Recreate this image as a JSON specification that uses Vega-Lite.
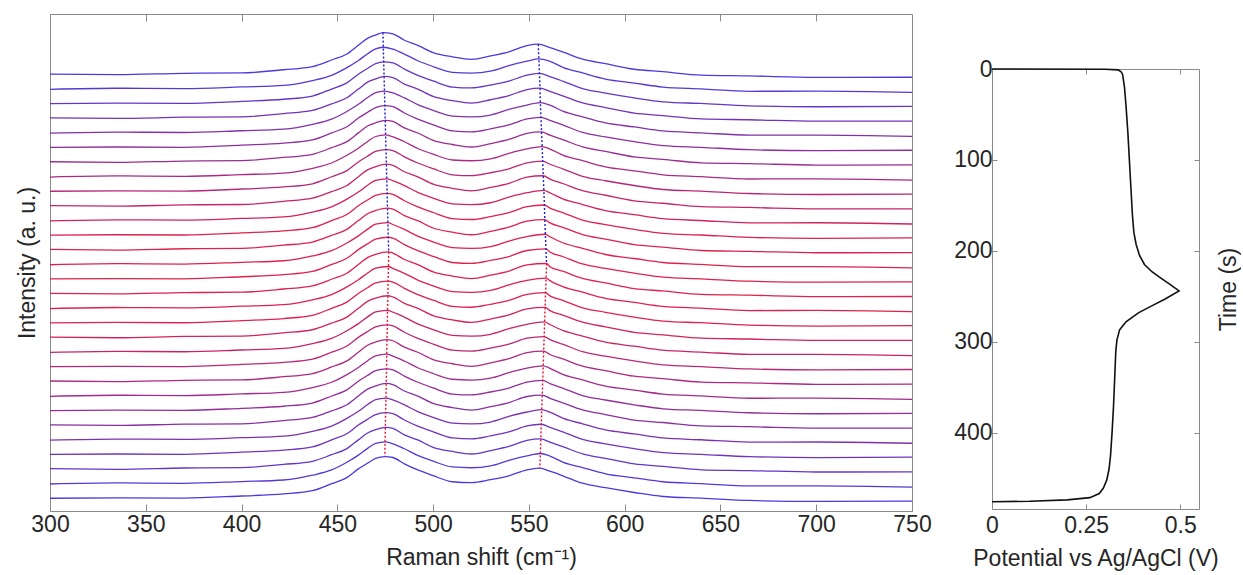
{
"$schema":"https://vega.github.io/schema/vega-lite/v6.json",
"background":"white",
"padding":{"left":15,"top":13,"right":0,"bottom":0},
"spacing":21,
"config":{"font":"Liberation Sans","view":{"stroke":"#8a8a8a","strokeWidth":1},
"axis":{"labelFont":"Liberation Sans","titleFont":"Liberation Sans","labelFontSize":23,"titleFontSize":23,"titleFontWeight":"normal","labelColor":"#262626","titleColor":"#262626","grid":false,"domain":false,"tickColor":"#8a8a8a","labelFlush":false,"labelOverlap":false}},
"datasets":{
"spec":[
{"s":0,"x":300,"y":448.4},{"s":0,"x":335,"y":447.8},{"s":0,"x":370,"y":449.1},{"s":0,"x":400,"y":449.5},{"s":0,"x":422,"y":452.8},{"s":0,"x":437,"y":456},{"s":0,"x":447,"y":462.8},{"s":0,"x":455,"y":469},{"s":0,"x":461,"y":478},{"s":0,"x":466,"y":485.3},{"s":0,"x":470,"y":488.4},{"s":0,"x":473.8,"y":490.9},{"s":0,"x":479,"y":489.7},{"s":0,"x":485,"y":483.1},{"s":0,"x":492,"y":477.9},{"s":0,"x":500,"y":470.4},{"s":0,"x":510,"y":466.1},{"s":0,"x":520,"y":463.5},{"s":0,"x":530,"y":467},{"s":0,"x":540,"y":471.5},{"s":0,"x":549,"y":477.5},{"s":0,"x":554.9,"y":479},{"s":0,"x":561,"y":475.6},{"s":0,"x":568,"y":470.8},{"s":0,"x":578,"y":463.7},{"s":0,"x":590,"y":459},{"s":0,"x":605,"y":453.3},{"s":0,"x":620,"y":450.8},{"s":0,"x":640,"y":447.3},{"s":0,"x":665,"y":446.5},{"s":0,"x":700,"y":445},{"s":0,"x":750,"y":445.1},
{"s":1,"x":300,"y":432.7},{"s":1,"x":335,"y":433.8},{"s":1,"x":370,"y":433.4},{"s":1,"x":400,"y":435.2},{"s":1,"x":422,"y":436.8},{"s":1,"x":437,"y":441.7},{"s":1,"x":447,"y":447.1},{"s":1,"x":455,"y":455},{"s":1,"x":461,"y":462.3},{"s":1,"x":466,"y":469.5},{"s":1,"x":470,"y":474.3},{"s":1,"x":474.0,"y":475.9},{"s":1,"x":479,"y":474},{"s":1,"x":485,"y":468.9},{"s":1,"x":492,"y":462},{"s":1,"x":500,"y":456.1},{"s":1,"x":510,"y":450.2},{"s":1,"x":520,"y":449.4},{"s":1,"x":530,"y":451.3},{"s":1,"x":540,"y":457.3},{"s":1,"x":549,"y":461.6},{"s":1,"x":555.2,"y":464},{"s":1,"x":561,"y":461.4},{"s":1,"x":568,"y":455},{"s":1,"x":578,"y":449.5},{"s":1,"x":590,"y":443.2},{"s":1,"x":605,"y":439.1},{"s":1,"x":620,"y":435},{"s":1,"x":640,"y":433.1},{"s":1,"x":665,"y":430.7},{"s":1,"x":700,"y":430.8},{"s":1,"x":750,"y":429.5},
{"s":2,"x":300,"y":418.1},{"s":2,"x":335,"y":418.5},{"s":2,"x":370,"y":418.2},{"s":2,"x":400,"y":420.4},{"s":2,"x":422,"y":422.5},{"s":2,"x":437,"y":425.8},{"s":2,"x":447,"y":433},{"s":2,"x":455,"y":439.3},{"s":2,"x":461,"y":448.2},{"s":2,"x":466,"y":454.4},{"s":2,"x":470,"y":459},{"s":2,"x":474.2,"y":460.9},{"s":2,"x":479,"y":459.9},{"s":2,"x":485,"y":453.4},{"s":2,"x":492,"y":447.1},{"s":2,"x":500,"y":441.3},{"s":2,"x":510,"y":435},{"s":2,"x":520,"y":434.1},{"s":2,"x":530,"y":437.1},{"s":2,"x":540,"y":441.4},{"s":2,"x":549,"y":447.3},{"s":2,"x":555.5,"y":449},{"s":2,"x":561,"y":445.8},{"s":2,"x":568,"y":440.9},{"s":2,"x":578,"y":433.5},{"s":2,"x":590,"y":428.9},{"s":2,"x":605,"y":424},{"s":2,"x":620,"y":419.9},{"s":2,"x":640,"y":418.2},{"s":2,"x":665,"y":415.8},{"s":2,"x":700,"y":414.8},{"s":2,"x":750,"y":415.2},
{"s":3,"x":300,"y":403.4},{"s":3,"x":335,"y":402.8},{"s":3,"x":370,"y":404.1},{"s":3,"x":400,"y":404.5},{"s":3,"x":422,"y":407.8},{"s":3,"x":437,"y":411},{"s":3,"x":447,"y":417.8},{"s":3,"x":455,"y":424},{"s":3,"x":461,"y":433},{"s":3,"x":466,"y":440.3},{"s":3,"x":470,"y":443.4},{"s":3,"x":474.4,"y":445.9},{"s":3,"x":479,"y":444.7},{"s":3,"x":485,"y":438.1},{"s":3,"x":492,"y":432.9},{"s":3,"x":500,"y":425.4},{"s":3,"x":510,"y":421.1},{"s":3,"x":520,"y":418.5},{"s":3,"x":530,"y":422},{"s":3,"x":540,"y":426.5},{"s":3,"x":549,"y":432.5},{"s":3,"x":555.8,"y":434},{"s":3,"x":561,"y":430.6},{"s":3,"x":568,"y":425.8},{"s":3,"x":578,"y":418.7},{"s":3,"x":590,"y":414},{"s":3,"x":605,"y":408.3},{"s":3,"x":620,"y":405.8},{"s":3,"x":640,"y":402.3},{"s":3,"x":665,"y":401.5},{"s":3,"x":700,"y":400},{"s":3,"x":750,"y":400.1},
{"s":4,"x":300,"y":387.7},{"s":4,"x":335,"y":388.8},{"s":4,"x":370,"y":388.4},{"s":4,"x":400,"y":390.2},{"s":4,"x":422,"y":391.8},{"s":4,"x":437,"y":396.7},{"s":4,"x":447,"y":402.1},{"s":4,"x":455,"y":410},{"s":4,"x":461,"y":417.3},{"s":4,"x":466,"y":424.5},{"s":4,"x":470,"y":429.3},{"s":4,"x":474.6,"y":430.9},{"s":4,"x":479,"y":429},{"s":4,"x":485,"y":423.9},{"s":4,"x":492,"y":417},{"s":4,"x":500,"y":411.1},{"s":4,"x":510,"y":405.2},{"s":4,"x":520,"y":404.4},{"s":4,"x":530,"y":406.3},{"s":4,"x":540,"y":412.3},{"s":4,"x":549,"y":416.6},{"s":4,"x":556.0,"y":419},{"s":4,"x":561,"y":416.4},{"s":4,"x":568,"y":410},{"s":4,"x":578,"y":404.5},{"s":4,"x":590,"y":398.2},{"s":4,"x":605,"y":394.1},{"s":4,"x":620,"y":390},{"s":4,"x":640,"y":388.1},{"s":4,"x":665,"y":385.7},{"s":4,"x":700,"y":385.8},{"s":4,"x":750,"y":384.5},
{"s":5,"x":300,"y":373.1},{"s":5,"x":335,"y":373.5},{"s":5,"x":370,"y":373.2},{"s":5,"x":400,"y":375.4},{"s":5,"x":422,"y":377.5},{"s":5,"x":437,"y":380.8},{"s":5,"x":447,"y":388},{"s":5,"x":455,"y":394.3},{"s":5,"x":461,"y":403.2},{"s":5,"x":466,"y":409.4},{"s":5,"x":470,"y":414},{"s":5,"x":474.8,"y":415.9},{"s":5,"x":479,"y":414.9},{"s":5,"x":485,"y":408.4},{"s":5,"x":492,"y":402.1},{"s":5,"x":500,"y":396.3},{"s":5,"x":510,"y":390},{"s":5,"x":520,"y":389.1},{"s":5,"x":530,"y":392.1},{"s":5,"x":540,"y":396.4},{"s":5,"x":549,"y":402.3},{"s":5,"x":556.3,"y":404},{"s":5,"x":561,"y":400.8},{"s":5,"x":568,"y":395.9},{"s":5,"x":578,"y":388.5},{"s":5,"x":590,"y":383.9},{"s":5,"x":605,"y":379},{"s":5,"x":620,"y":374.9},{"s":5,"x":640,"y":373.2},{"s":5,"x":665,"y":370.8},{"s":5,"x":700,"y":369.8},{"s":5,"x":750,"y":370.2},
{"s":6,"x":300,"y":358.4},{"s":6,"x":335,"y":357.8},{"s":6,"x":370,"y":359.1},{"s":6,"x":400,"y":359.5},{"s":6,"x":422,"y":362.8},{"s":6,"x":437,"y":366},{"s":6,"x":447,"y":372.8},{"s":6,"x":455,"y":379},{"s":6,"x":461,"y":388},{"s":6,"x":466,"y":395.3},{"s":6,"x":470,"y":398.4},{"s":6,"x":475.0,"y":400.9},{"s":6,"x":479,"y":399.7},{"s":6,"x":485,"y":393.1},{"s":6,"x":492,"y":387.9},{"s":6,"x":500,"y":380.4},{"s":6,"x":510,"y":376.1},{"s":6,"x":520,"y":373.5},{"s":6,"x":530,"y":377},{"s":6,"x":540,"y":381.5},{"s":6,"x":549,"y":387.5},{"s":6,"x":556.6,"y":389},{"s":6,"x":561,"y":385.6},{"s":6,"x":568,"y":380.8},{"s":6,"x":578,"y":373.7},{"s":6,"x":590,"y":369},{"s":6,"x":605,"y":363.3},{"s":6,"x":620,"y":360.8},{"s":6,"x":640,"y":357.3},{"s":6,"x":665,"y":356.5},{"s":6,"x":700,"y":355},{"s":6,"x":750,"y":355.1},
{"s":7,"x":300,"y":342.7},{"s":7,"x":335,"y":343.8},{"s":7,"x":370,"y":343.4},{"s":7,"x":400,"y":345.2},{"s":7,"x":422,"y":346.8},{"s":7,"x":437,"y":351.7},{"s":7,"x":447,"y":357.1},{"s":7,"x":455,"y":365},{"s":7,"x":461,"y":372.3},{"s":7,"x":466,"y":379.5},{"s":7,"x":470,"y":384.3},{"s":7,"x":475.2,"y":385.9},{"s":7,"x":479,"y":384},{"s":7,"x":485,"y":378.9},{"s":7,"x":492,"y":372},{"s":7,"x":500,"y":366.1},{"s":7,"x":510,"y":360.2},{"s":7,"x":520,"y":359.4},{"s":7,"x":530,"y":361.3},{"s":7,"x":540,"y":367.3},{"s":7,"x":549,"y":371.6},{"s":7,"x":556.9,"y":374},{"s":7,"x":561,"y":371.4},{"s":7,"x":568,"y":365},{"s":7,"x":578,"y":359.5},{"s":7,"x":590,"y":353.2},{"s":7,"x":605,"y":349.1},{"s":7,"x":620,"y":345},{"s":7,"x":640,"y":343.1},{"s":7,"x":665,"y":340.7},{"s":7,"x":700,"y":340.8},{"s":7,"x":750,"y":339.5},
{"s":8,"x":300,"y":328.1},{"s":8,"x":335,"y":328.5},{"s":8,"x":370,"y":328.2},{"s":8,"x":400,"y":330.4},{"s":8,"x":422,"y":332.5},{"s":8,"x":437,"y":335.8},{"s":8,"x":447,"y":343},{"s":8,"x":455,"y":349.3},{"s":8,"x":461,"y":358.2},{"s":8,"x":466,"y":364.4},{"s":8,"x":470,"y":369},{"s":8,"x":475.4,"y":370.9},{"s":8,"x":479,"y":369.9},{"s":8,"x":485,"y":363.4},{"s":8,"x":492,"y":357.1},{"s":8,"x":500,"y":351.3},{"s":8,"x":510,"y":345},{"s":8,"x":520,"y":344.1},{"s":8,"x":530,"y":347.1},{"s":8,"x":540,"y":351.4},{"s":8,"x":549,"y":357.3},{"s":8,"x":557.2,"y":359},{"s":8,"x":561,"y":355.8},{"s":8,"x":568,"y":350.9},{"s":8,"x":578,"y":343.5},{"s":8,"x":590,"y":338.9},{"s":8,"x":605,"y":334},{"s":8,"x":620,"y":329.9},{"s":8,"x":640,"y":328.2},{"s":8,"x":665,"y":325.8},{"s":8,"x":700,"y":324.8},{"s":8,"x":750,"y":325.2},
{"s":9,"x":300,"y":313.4},{"s":9,"x":335,"y":312.8},{"s":9,"x":370,"y":314.1},{"s":9,"x":400,"y":314.5},{"s":9,"x":422,"y":317.8},{"s":9,"x":437,"y":321},{"s":9,"x":447,"y":327.8},{"s":9,"x":455,"y":334},{"s":9,"x":461,"y":343},{"s":9,"x":466,"y":350.3},{"s":9,"x":470,"y":353.4},{"s":9,"x":475.6,"y":355.9},{"s":9,"x":479,"y":354.7},{"s":9,"x":485,"y":348.1},{"s":9,"x":492,"y":342.9},{"s":9,"x":500,"y":335.4},{"s":9,"x":510,"y":331.1},{"s":9,"x":520,"y":328.5},{"s":9,"x":530,"y":332},{"s":9,"x":540,"y":336.5},{"s":9,"x":549,"y":342.5},{"s":9,"x":557.5,"y":344},{"s":9,"x":561,"y":340.6},{"s":9,"x":568,"y":335.8},{"s":9,"x":578,"y":328.7},{"s":9,"x":590,"y":324},{"s":9,"x":605,"y":318.3},{"s":9,"x":620,"y":315.8},{"s":9,"x":640,"y":312.3},{"s":9,"x":665,"y":311.5},{"s":9,"x":700,"y":310},{"s":9,"x":750,"y":310.1},
{"s":10,"x":300,"y":297.7},{"s":10,"x":335,"y":298.8},{"s":10,"x":370,"y":298.4},{"s":10,"x":400,"y":300.2},{"s":10,"x":422,"y":301.8},{"s":10,"x":437,"y":306.7},{"s":10,"x":447,"y":312.1},{"s":10,"x":455,"y":320},{"s":10,"x":461,"y":327.3},{"s":10,"x":466,"y":334.5},{"s":10,"x":470,"y":339.3},{"s":10,"x":475.8,"y":340.9},{"s":10,"x":479,"y":339},{"s":10,"x":485,"y":333.9},{"s":10,"x":492,"y":327},{"s":10,"x":500,"y":321.1},{"s":10,"x":510,"y":315.2},{"s":10,"x":520,"y":314.4},{"s":10,"x":530,"y":316.3},{"s":10,"x":540,"y":322.3},{"s":10,"x":549,"y":326.6},{"s":10,"x":557.8,"y":329},{"s":10,"x":561,"y":326.4},{"s":10,"x":568,"y":320},{"s":10,"x":578,"y":314.5},{"s":10,"x":590,"y":308.2},{"s":10,"x":605,"y":304.1},{"s":10,"x":620,"y":300},{"s":10,"x":640,"y":298.1},{"s":10,"x":665,"y":295.7},{"s":10,"x":700,"y":295.8},{"s":10,"x":750,"y":294.5},
{"s":11,"x":300,"y":283.1},{"s":11,"x":335,"y":283.5},{"s":11,"x":370,"y":283.2},{"s":11,"x":400,"y":285.4},{"s":11,"x":422,"y":287.5},{"s":11,"x":437,"y":290.8},{"s":11,"x":447,"y":298},{"s":11,"x":455,"y":304.3},{"s":11,"x":461,"y":313.2},{"s":11,"x":466,"y":319.4},{"s":11,"x":470,"y":324},{"s":11,"x":476.0,"y":325.9},{"s":11,"x":479,"y":324.9},{"s":11,"x":485,"y":318.4},{"s":11,"x":492,"y":312.1},{"s":11,"x":500,"y":306.3},{"s":11,"x":510,"y":300},{"s":11,"x":520,"y":299.1},{"s":11,"x":530,"y":302.1},{"s":11,"x":540,"y":306.4},{"s":11,"x":549,"y":312.3},{"s":11,"x":558.1,"y":314},{"s":11,"x":561,"y":310.8},{"s":11,"x":568,"y":305.9},{"s":11,"x":578,"y":298.5},{"s":11,"x":590,"y":293.9},{"s":11,"x":605,"y":289},{"s":11,"x":620,"y":284.9},{"s":11,"x":640,"y":283.2},{"s":11,"x":665,"y":280.8},{"s":11,"x":700,"y":279.8},{"s":11,"x":750,"y":280.2},
{"s":12,"x":300,"y":268.4},{"s":12,"x":335,"y":267.8},{"s":12,"x":370,"y":269.1},{"s":12,"x":400,"y":269.5},{"s":12,"x":422,"y":272.8},{"s":12,"x":437,"y":276},{"s":12,"x":447,"y":282.8},{"s":12,"x":455,"y":289},{"s":12,"x":461,"y":298},{"s":12,"x":466,"y":305.3},{"s":12,"x":470,"y":308.4},{"s":12,"x":476.2,"y":310.9},{"s":12,"x":479,"y":309.7},{"s":12,"x":485,"y":303.1},{"s":12,"x":492,"y":297.9},{"s":12,"x":500,"y":290.4},{"s":12,"x":510,"y":286.1},{"s":12,"x":520,"y":283.5},{"s":12,"x":530,"y":287},{"s":12,"x":540,"y":291.5},{"s":12,"x":549,"y":297.5},{"s":12,"x":558.3,"y":299},{"s":12,"x":561,"y":295.6},{"s":12,"x":568,"y":290.8},{"s":12,"x":578,"y":283.7},{"s":12,"x":590,"y":279},{"s":12,"x":605,"y":273.3},{"s":12,"x":620,"y":270.8},{"s":12,"x":640,"y":267.3},{"s":12,"x":665,"y":266.5},{"s":12,"x":700,"y":265},{"s":12,"x":750,"y":265.1},
{"s":13,"x":300,"y":252.7},{"s":13,"x":335,"y":253.8},{"s":13,"x":370,"y":253.4},{"s":13,"x":400,"y":255.2},{"s":13,"x":422,"y":256.8},{"s":13,"x":437,"y":261.7},{"s":13,"x":447,"y":267.1},{"s":13,"x":455,"y":275},{"s":13,"x":461,"y":282.3},{"s":13,"x":466,"y":289.5},{"s":13,"x":470,"y":294.3},{"s":13,"x":476.4,"y":295.9},{"s":13,"x":479,"y":294},{"s":13,"x":485,"y":288.9},{"s":13,"x":492,"y":282},{"s":13,"x":500,"y":276.1},{"s":13,"x":510,"y":270.2},{"s":13,"x":520,"y":269.4},{"s":13,"x":530,"y":271.3},{"s":13,"x":540,"y":277.3},{"s":13,"x":549,"y":281.6},{"s":13,"x":558.6,"y":284},{"s":13,"x":561,"y":281.4},{"s":13,"x":568,"y":275},{"s":13,"x":578,"y":269.5},{"s":13,"x":590,"y":263.2},{"s":13,"x":605,"y":259.1},{"s":13,"x":620,"y":255},{"s":13,"x":640,"y":253.1},{"s":13,"x":665,"y":250.7},{"s":13,"x":700,"y":250.8},{"s":13,"x":750,"y":249.5},
{"s":14,"x":300,"y":238.1},{"s":14,"x":335,"y":238.5},{"s":14,"x":370,"y":238.2},{"s":14,"x":400,"y":240.4},{"s":14,"x":422,"y":242.5},{"s":14,"x":437,"y":245.8},{"s":14,"x":447,"y":253},{"s":14,"x":455,"y":259.3},{"s":14,"x":461,"y":268.2},{"s":14,"x":466,"y":274.4},{"s":14,"x":470,"y":279},{"s":14,"x":476.6,"y":280.9},{"s":14,"x":479,"y":279.9},{"s":14,"x":485,"y":273.4},{"s":14,"x":492,"y":267.1},{"s":14,"x":500,"y":261.3},{"s":14,"x":510,"y":255},{"s":14,"x":520,"y":254.1},{"s":14,"x":530,"y":257.1},{"s":14,"x":540,"y":261.4},{"s":14,"x":549,"y":267.3},{"s":14,"x":558.9,"y":269},{"s":14,"x":561,"y":265.8},{"s":14,"x":568,"y":260.9},{"s":14,"x":578,"y":253.5},{"s":14,"x":590,"y":248.9},{"s":14,"x":605,"y":244},{"s":14,"x":620,"y":239.9},{"s":14,"x":640,"y":238.2},{"s":14,"x":665,"y":235.8},{"s":14,"x":700,"y":234.8},{"s":14,"x":750,"y":235.2},
{"s":15,"x":300,"y":223.4},{"s":15,"x":335,"y":222.8},{"s":15,"x":370,"y":224.1},{"s":15,"x":400,"y":224.5},{"s":15,"x":422,"y":227.8},{"s":15,"x":437,"y":231},{"s":15,"x":447,"y":237.8},{"s":15,"x":455,"y":244},{"s":15,"x":461,"y":253},{"s":15,"x":466,"y":260.3},{"s":15,"x":470,"y":263.4},{"s":15,"x":476.8,"y":265.9},{"s":15,"x":479,"y":264.7},{"s":15,"x":485,"y":258.1},{"s":15,"x":492,"y":252.9},{"s":15,"x":500,"y":245.4},{"s":15,"x":510,"y":241.1},{"s":15,"x":520,"y":238.5},{"s":15,"x":530,"y":242},{"s":15,"x":540,"y":246.5},{"s":15,"x":549,"y":252.5},{"s":15,"x":559.2,"y":254},{"s":15,"x":561,"y":250.6},{"s":15,"x":568,"y":245.8},{"s":15,"x":578,"y":238.7},{"s":15,"x":590,"y":234},{"s":15,"x":605,"y":228.3},{"s":15,"x":620,"y":225.8},{"s":15,"x":640,"y":222.3},{"s":15,"x":665,"y":221.5},{"s":15,"x":700,"y":220},{"s":15,"x":750,"y":220.1},
{"s":16,"x":300,"y":207.7},{"s":16,"x":335,"y":208.8},{"s":16,"x":370,"y":208.4},{"s":16,"x":400,"y":210.2},{"s":16,"x":422,"y":211.8},{"s":16,"x":437,"y":216.7},{"s":16,"x":447,"y":222.1},{"s":16,"x":455,"y":230},{"s":16,"x":461,"y":237.3},{"s":16,"x":466,"y":244.5},{"s":16,"x":470,"y":249.3},{"s":16,"x":476.7,"y":250.9},{"s":16,"x":479,"y":249},{"s":16,"x":485,"y":243.9},{"s":16,"x":492,"y":237},{"s":16,"x":500,"y":231.1},{"s":16,"x":510,"y":225.2},{"s":16,"x":520,"y":224.4},{"s":16,"x":530,"y":226.3},{"s":16,"x":540,"y":232.3},{"s":16,"x":549,"y":236.6},{"s":16,"x":559.0,"y":239},{"s":16,"x":561,"y":236.4},{"s":16,"x":568,"y":230},{"s":16,"x":578,"y":224.5},{"s":16,"x":590,"y":218.2},{"s":16,"x":605,"y":214.1},{"s":16,"x":620,"y":210},{"s":16,"x":640,"y":208.1},{"s":16,"x":665,"y":205.7},{"s":16,"x":700,"y":205.8},{"s":16,"x":750,"y":204.5},
{"s":17,"x":300,"y":193.1},{"s":17,"x":335,"y":193.5},{"s":17,"x":370,"y":193.2},{"s":17,"x":400,"y":195.4},{"s":17,"x":422,"y":197.5},{"s":17,"x":437,"y":200.8},{"s":17,"x":447,"y":208},{"s":17,"x":455,"y":214.3},{"s":17,"x":461,"y":223.2},{"s":17,"x":466,"y":229.4},{"s":17,"x":470,"y":234},{"s":17,"x":476.5,"y":235.9},{"s":17,"x":479,"y":234.9},{"s":17,"x":485,"y":228.4},{"s":17,"x":492,"y":222.1},{"s":17,"x":500,"y":216.3},{"s":17,"x":510,"y":210},{"s":17,"x":520,"y":209.1},{"s":17,"x":530,"y":212.1},{"s":17,"x":540,"y":216.4},{"s":17,"x":549,"y":222.3},{"s":17,"x":558.7,"y":224},{"s":17,"x":561,"y":220.8},{"s":17,"x":568,"y":215.9},{"s":17,"x":578,"y":208.5},{"s":17,"x":590,"y":203.9},{"s":17,"x":605,"y":199},{"s":17,"x":620,"y":194.9},{"s":17,"x":640,"y":193.2},{"s":17,"x":665,"y":190.8},{"s":17,"x":700,"y":189.8},{"s":17,"x":750,"y":190.2},
{"s":18,"x":300,"y":178.4},{"s":18,"x":335,"y":177.8},{"s":18,"x":370,"y":179.1},{"s":18,"x":400,"y":179.5},{"s":18,"x":422,"y":182.8},{"s":18,"x":437,"y":186},{"s":18,"x":447,"y":192.8},{"s":18,"x":455,"y":199},{"s":18,"x":461,"y":208},{"s":18,"x":466,"y":215.3},{"s":18,"x":470,"y":218.4},{"s":18,"x":476.4,"y":220.9},{"s":18,"x":479,"y":219.7},{"s":18,"x":485,"y":213.1},{"s":18,"x":492,"y":207.9},{"s":18,"x":500,"y":200.4},{"s":18,"x":510,"y":196.1},{"s":18,"x":520,"y":193.5},{"s":18,"x":530,"y":197},{"s":18,"x":540,"y":201.5},{"s":18,"x":549,"y":207.5},{"s":18,"x":558.5,"y":209},{"s":18,"x":561,"y":205.6},{"s":18,"x":568,"y":200.8},{"s":18,"x":578,"y":193.7},{"s":18,"x":590,"y":189},{"s":18,"x":605,"y":183.3},{"s":18,"x":620,"y":180.8},{"s":18,"x":640,"y":177.3},{"s":18,"x":665,"y":176.5},{"s":18,"x":700,"y":175},{"s":18,"x":750,"y":175.1},
{"s":19,"x":300,"y":162.7},{"s":19,"x":335,"y":163.8},{"s":19,"x":370,"y":163.4},{"s":19,"x":400,"y":165.2},{"s":19,"x":422,"y":166.8},{"s":19,"x":437,"y":171.7},{"s":19,"x":447,"y":177.1},{"s":19,"x":455,"y":185},{"s":19,"x":461,"y":192.3},{"s":19,"x":466,"y":199.5},{"s":19,"x":470,"y":204.3},{"s":19,"x":476.2,"y":205.9},{"s":19,"x":479,"y":204},{"s":19,"x":485,"y":198.9},{"s":19,"x":492,"y":192},{"s":19,"x":500,"y":186.1},{"s":19,"x":510,"y":180.2},{"s":19,"x":520,"y":179.4},{"s":19,"x":530,"y":181.3},{"s":19,"x":540,"y":187.3},{"s":19,"x":549,"y":191.6},{"s":19,"x":558.2,"y":194},{"s":19,"x":561,"y":191.4},{"s":19,"x":568,"y":185},{"s":19,"x":578,"y":179.5},{"s":19,"x":590,"y":173.2},{"s":19,"x":605,"y":169.1},{"s":19,"x":620,"y":165},{"s":19,"x":640,"y":163.1},{"s":19,"x":665,"y":160.7},{"s":19,"x":700,"y":160.8},{"s":19,"x":750,"y":159.5},
{"s":20,"x":300,"y":148.1},{"s":20,"x":335,"y":148.5},{"s":20,"x":370,"y":148.2},{"s":20,"x":400,"y":150.4},{"s":20,"x":422,"y":152.5},{"s":20,"x":437,"y":155.8},{"s":20,"x":447,"y":163},{"s":20,"x":455,"y":169.3},{"s":20,"x":461,"y":178.2},{"s":20,"x":466,"y":184.4},{"s":20,"x":470,"y":189},{"s":20,"x":476.1,"y":190.9},{"s":20,"x":479,"y":189.9},{"s":20,"x":485,"y":183.4},{"s":20,"x":492,"y":177.1},{"s":20,"x":500,"y":171.3},{"s":20,"x":510,"y":165},{"s":20,"x":520,"y":164.1},{"s":20,"x":530,"y":167.1},{"s":20,"x":540,"y":171.4},{"s":20,"x":549,"y":177.3},{"s":20,"x":558.0,"y":179},{"s":20,"x":561,"y":175.8},{"s":20,"x":568,"y":170.9},{"s":20,"x":578,"y":163.5},{"s":20,"x":590,"y":158.9},{"s":20,"x":605,"y":154},{"s":20,"x":620,"y":149.9},{"s":20,"x":640,"y":148.2},{"s":20,"x":665,"y":145.8},{"s":20,"x":700,"y":144.8},{"s":20,"x":750,"y":145.2},
{"s":21,"x":300,"y":133.4},{"s":21,"x":335,"y":132.8},{"s":21,"x":370,"y":134.1},{"s":21,"x":400,"y":134.5},{"s":21,"x":422,"y":137.8},{"s":21,"x":437,"y":141},{"s":21,"x":447,"y":147.8},{"s":21,"x":455,"y":154},{"s":21,"x":461,"y":163},{"s":21,"x":466,"y":170.3},{"s":21,"x":470,"y":173.4},{"s":21,"x":475.9,"y":175.9},{"s":21,"x":479,"y":174.7},{"s":21,"x":485,"y":168.1},{"s":21,"x":492,"y":162.9},{"s":21,"x":500,"y":155.4},{"s":21,"x":510,"y":151.1},{"s":21,"x":520,"y":148.5},{"s":21,"x":530,"y":152},{"s":21,"x":540,"y":156.5},{"s":21,"x":549,"y":162.5},{"s":21,"x":557.7,"y":164},{"s":21,"x":561,"y":160.6},{"s":21,"x":568,"y":155.8},{"s":21,"x":578,"y":148.7},{"s":21,"x":590,"y":144},{"s":21,"x":605,"y":138.3},{"s":21,"x":620,"y":135.8},{"s":21,"x":640,"y":132.3},{"s":21,"x":665,"y":131.5},{"s":21,"x":700,"y":130},{"s":21,"x":750,"y":130.1},
{"s":22,"x":300,"y":117.7},{"s":22,"x":335,"y":118.8},{"s":22,"x":370,"y":118.4},{"s":22,"x":400,"y":120.2},{"s":22,"x":422,"y":121.8},{"s":22,"x":437,"y":126.7},{"s":22,"x":447,"y":132.1},{"s":22,"x":455,"y":140},{"s":22,"x":461,"y":147.3},{"s":22,"x":466,"y":154.5},{"s":22,"x":470,"y":159.3},{"s":22,"x":475.8,"y":160.9},{"s":22,"x":479,"y":159},{"s":22,"x":485,"y":153.9},{"s":22,"x":492,"y":147},{"s":22,"x":500,"y":141.1},{"s":22,"x":510,"y":135.2},{"s":22,"x":520,"y":134.4},{"s":22,"x":530,"y":136.3},{"s":22,"x":540,"y":142.3},{"s":22,"x":549,"y":146.6},{"s":22,"x":557.5,"y":149},{"s":22,"x":561,"y":146.4},{"s":22,"x":568,"y":140},{"s":22,"x":578,"y":134.5},{"s":22,"x":590,"y":128.2},{"s":22,"x":605,"y":124.1},{"s":22,"x":620,"y":120},{"s":22,"x":640,"y":118.1},{"s":22,"x":665,"y":115.7},{"s":22,"x":700,"y":115.8},{"s":22,"x":750,"y":114.5},
{"s":23,"x":300,"y":103.1},{"s":23,"x":335,"y":103.5},{"s":23,"x":370,"y":103.2},{"s":23,"x":400,"y":105.4},{"s":23,"x":422,"y":107.5},{"s":23,"x":437,"y":110.8},{"s":23,"x":447,"y":118},{"s":23,"x":455,"y":124.3},{"s":23,"x":461,"y":133.2},{"s":23,"x":466,"y":139.4},{"s":23,"x":470,"y":144},{"s":23,"x":475.7,"y":145.9},{"s":23,"x":479,"y":144.9},{"s":23,"x":485,"y":138.4},{"s":23,"x":492,"y":132.1},{"s":23,"x":500,"y":126.3},{"s":23,"x":510,"y":120},{"s":23,"x":520,"y":119.1},{"s":23,"x":530,"y":122.1},{"s":23,"x":540,"y":126.4},{"s":23,"x":549,"y":132.3},{"s":23,"x":557.2,"y":134},{"s":23,"x":561,"y":130.8},{"s":23,"x":568,"y":125.9},{"s":23,"x":578,"y":118.5},{"s":23,"x":590,"y":113.9},{"s":23,"x":605,"y":109},{"s":23,"x":620,"y":104.9},{"s":23,"x":640,"y":103.2},{"s":23,"x":665,"y":100.8},{"s":23,"x":700,"y":99.8},{"s":23,"x":750,"y":100.2},
{"s":24,"x":300,"y":88.4},{"s":24,"x":335,"y":87.8},{"s":24,"x":370,"y":89.1},{"s":24,"x":400,"y":89.5},{"s":24,"x":422,"y":92.8},{"s":24,"x":437,"y":96},{"s":24,"x":447,"y":102.8},{"s":24,"x":455,"y":109},{"s":24,"x":461,"y":118},{"s":24,"x":466,"y":125.3},{"s":24,"x":470,"y":128.4},{"s":24,"x":475.5,"y":130.9},{"s":24,"x":479,"y":129.7},{"s":24,"x":485,"y":123.1},{"s":24,"x":492,"y":117.9},{"s":24,"x":500,"y":110.4},{"s":24,"x":510,"y":106.1},{"s":24,"x":520,"y":103.5},{"s":24,"x":530,"y":107},{"s":24,"x":540,"y":111.5},{"s":24,"x":549,"y":117.5},{"s":24,"x":557.0,"y":119},{"s":24,"x":561,"y":115.6},{"s":24,"x":568,"y":110.8},{"s":24,"x":578,"y":103.7},{"s":24,"x":590,"y":99},{"s":24,"x":605,"y":93.3},{"s":24,"x":620,"y":90.8},{"s":24,"x":640,"y":87.3},{"s":24,"x":665,"y":86.5},{"s":24,"x":700,"y":85},{"s":24,"x":750,"y":85.1},
{"s":25,"x":300,"y":72.7},{"s":25,"x":335,"y":73.8},{"s":25,"x":370,"y":73.4},{"s":25,"x":400,"y":75.2},{"s":25,"x":422,"y":76.8},{"s":25,"x":437,"y":81.7},{"s":25,"x":447,"y":87.1},{"s":25,"x":455,"y":95},{"s":25,"x":461,"y":102.3},{"s":25,"x":466,"y":109.5},{"s":25,"x":470,"y":114.3},{"s":25,"x":475.4,"y":115.9},{"s":25,"x":479,"y":114},{"s":25,"x":485,"y":108.9},{"s":25,"x":492,"y":102},{"s":25,"x":500,"y":96.1},{"s":25,"x":510,"y":90.2},{"s":25,"x":520,"y":89.4},{"s":25,"x":530,"y":91.3},{"s":25,"x":540,"y":97.3},{"s":25,"x":549,"y":101.6},{"s":25,"x":556.7,"y":104},{"s":25,"x":561,"y":101.4},{"s":25,"x":568,"y":95},{"s":25,"x":578,"y":89.5},{"s":25,"x":590,"y":83.2},{"s":25,"x":605,"y":79.1},{"s":25,"x":620,"y":75},{"s":25,"x":640,"y":73.1},{"s":25,"x":665,"y":70.7},{"s":25,"x":700,"y":70.8},{"s":25,"x":750,"y":69.5},
{"s":26,"x":300,"y":58.1},{"s":26,"x":335,"y":58.5},{"s":26,"x":370,"y":58.2},{"s":26,"x":400,"y":60.4},{"s":26,"x":422,"y":62.5},{"s":26,"x":437,"y":65.8},{"s":26,"x":447,"y":73},{"s":26,"x":455,"y":79.3},{"s":26,"x":461,"y":88.2},{"s":26,"x":466,"y":94.4},{"s":26,"x":470,"y":99},{"s":26,"x":475.2,"y":100.9},{"s":26,"x":479,"y":99.9},{"s":26,"x":485,"y":93.4},{"s":26,"x":492,"y":87.1},{"s":26,"x":500,"y":81.3},{"s":26,"x":510,"y":75},{"s":26,"x":520,"y":74.1},{"s":26,"x":530,"y":77.1},{"s":26,"x":540,"y":81.4},{"s":26,"x":549,"y":87.3},{"s":26,"x":556.5,"y":89},{"s":26,"x":561,"y":85.8},{"s":26,"x":568,"y":80.9},{"s":26,"x":578,"y":73.5},{"s":26,"x":590,"y":68.9},{"s":26,"x":605,"y":64},{"s":26,"x":620,"y":59.9},{"s":26,"x":640,"y":58.2},{"s":26,"x":665,"y":55.8},{"s":26,"x":700,"y":54.8},{"s":26,"x":750,"y":55.2},
{"s":27,"x":300,"y":43.4},{"s":27,"x":335,"y":42.8},{"s":27,"x":370,"y":44.1},{"s":27,"x":400,"y":44.5},{"s":27,"x":422,"y":47.8},{"s":27,"x":437,"y":51},{"s":27,"x":447,"y":57.8},{"s":27,"x":455,"y":64},{"s":27,"x":461,"y":73},{"s":27,"x":466,"y":80.3},{"s":27,"x":470,"y":83.4},{"s":27,"x":475.1,"y":85.9},{"s":27,"x":479,"y":84.7},{"s":27,"x":485,"y":78.1},{"s":27,"x":492,"y":72.9},{"s":27,"x":500,"y":65.4},{"s":27,"x":510,"y":61.1},{"s":27,"x":520,"y":58.5},{"s":27,"x":530,"y":62},{"s":27,"x":540,"y":66.5},{"s":27,"x":549,"y":72.5},{"s":27,"x":556.2,"y":74},{"s":27,"x":561,"y":70.6},{"s":27,"x":568,"y":65.8},{"s":27,"x":578,"y":58.7},{"s":27,"x":590,"y":54},{"s":27,"x":605,"y":48.3},{"s":27,"x":620,"y":45.8},{"s":27,"x":640,"y":42.3},{"s":27,"x":665,"y":41.5},{"s":27,"x":700,"y":40},{"s":27,"x":750,"y":40.1},
{"s":28,"x":300,"y":27.7},{"s":28,"x":335,"y":28.8},{"s":28,"x":370,"y":28.4},{"s":28,"x":400,"y":30.2},{"s":28,"x":422,"y":31.8},{"s":28,"x":437,"y":36.7},{"s":28,"x":447,"y":42.1},{"s":28,"x":455,"y":50},{"s":28,"x":461,"y":57.3},{"s":28,"x":466,"y":64.5},{"s":28,"x":470,"y":69.3},{"s":28,"x":474.9,"y":70.9},{"s":28,"x":479,"y":69},{"s":28,"x":485,"y":63.9},{"s":28,"x":492,"y":57},{"s":28,"x":500,"y":51.1},{"s":28,"x":510,"y":45.2},{"s":28,"x":520,"y":44.4},{"s":28,"x":530,"y":46.3},{"s":28,"x":540,"y":52.3},{"s":28,"x":549,"y":56.6},{"s":28,"x":556.0,"y":59},{"s":28,"x":561,"y":56.4},{"s":28,"x":568,"y":50},{"s":28,"x":578,"y":44.5},{"s":28,"x":590,"y":38.2},{"s":28,"x":605,"y":34.1},{"s":28,"x":620,"y":30},{"s":28,"x":640,"y":28.1},{"s":28,"x":665,"y":25.7},{"s":28,"x":700,"y":25.8},{"s":28,"x":750,"y":24.5},
{"s":29,"x":300,"y":13.1},{"s":29,"x":335,"y":13.5},{"s":29,"x":370,"y":13.2},{"s":29,"x":400,"y":15.4},{"s":29,"x":422,"y":17.5},{"s":29,"x":437,"y":20.8},{"s":29,"x":447,"y":28},{"s":29,"x":455,"y":34.3},{"s":29,"x":461,"y":43.2},{"s":29,"x":466,"y":49.4},{"s":29,"x":470,"y":54},{"s":29,"x":474.8,"y":55.9},{"s":29,"x":479,"y":54.9},{"s":29,"x":485,"y":48.4},{"s":29,"x":492,"y":42.1},{"s":29,"x":500,"y":36.3},{"s":29,"x":510,"y":30},{"s":29,"x":520,"y":29.1},{"s":29,"x":530,"y":32.1},{"s":29,"x":540,"y":36.4},{"s":29,"x":549,"y":42.3},{"s":29,"x":555.7,"y":44},{"s":29,"x":561,"y":40.8},{"s":29,"x":568,"y":35.9},{"s":29,"x":578,"y":28.5},{"s":29,"x":590,"y":23.9},{"s":29,"x":605,"y":19},{"s":29,"x":620,"y":14.9},{"s":29,"x":640,"y":13.2},{"s":29,"x":665,"y":10.8},{"s":29,"x":700,"y":9.8},{"s":29,"x":750,"y":10.2}
],
"peaks":[
{"b":1,"g":1,"s":0,"x":473.8,"y":490.9},{"b":1,"g":1,"s":1,"x":474.0,"y":475.9},{"b":1,"g":1,"s":2,"x":474.2,"y":460.9},{"b":1,"g":1,"s":3,"x":474.4,"y":445.9},{"b":1,"g":1,"s":4,"x":474.6,"y":430.9},{"b":1,"g":1,"s":5,"x":474.8,"y":415.9},{"b":1,"g":1,"s":6,"x":475.0,"y":400.9},{"b":1,"g":1,"s":7,"x":475.2,"y":385.9},{"b":1,"g":1,"s":8,"x":475.4,"y":370.9},{"b":1,"g":1,"s":9,"x":475.6,"y":355.9},{"b":1,"g":1,"s":10,"x":475.8,"y":340.9},{"b":1,"g":1,"s":11,"x":476.0,"y":325.9},{"b":1,"g":1,"s":12,"x":476.2,"y":310.9},{"b":1,"g":1,"s":13,"x":476.4,"y":295.9},{"b":1,"g":1,"s":14,"x":476.6,"y":280.9},{"b":1,"g":1,"s":15,"x":476.8,"y":265.9},
{"b":1,"g":2,"s":15,"x":476.8,"y":265.9},{"b":1,"g":2,"s":16,"x":476.7,"y":250.9},{"b":1,"g":2,"s":17,"x":476.5,"y":235.9},{"b":1,"g":2,"s":18,"x":476.4,"y":220.9},{"b":1,"g":2,"s":19,"x":476.2,"y":205.9},{"b":1,"g":2,"s":20,"x":476.1,"y":190.9},{"b":1,"g":2,"s":21,"x":475.9,"y":175.9},{"b":1,"g":2,"s":22,"x":475.8,"y":160.9},{"b":1,"g":2,"s":23,"x":475.7,"y":145.9},{"b":1,"g":2,"s":24,"x":475.5,"y":130.9},{"b":1,"g":2,"s":25,"x":475.4,"y":115.9},{"b":1,"g":2,"s":26,"x":475.2,"y":100.9},{"b":1,"g":2,"s":27,"x":475.1,"y":85.9},{"b":1,"g":2,"s":28,"x":474.9,"y":70.9},{"b":1,"g":2,"s":29,"x":474.8,"y":55.9},
{"b":2,"g":1,"s":0,"x":554.9,"y":479},{"b":2,"g":1,"s":1,"x":555.2,"y":464},{"b":2,"g":1,"s":2,"x":555.5,"y":449},{"b":2,"g":1,"s":3,"x":555.8,"y":434},{"b":2,"g":1,"s":4,"x":556.0,"y":419},{"b":2,"g":1,"s":5,"x":556.3,"y":404},{"b":2,"g":1,"s":6,"x":556.6,"y":389},{"b":2,"g":1,"s":7,"x":556.9,"y":374},{"b":2,"g":1,"s":8,"x":557.2,"y":359},{"b":2,"g":1,"s":9,"x":557.5,"y":344},{"b":2,"g":1,"s":10,"x":557.8,"y":329},{"b":2,"g":1,"s":11,"x":558.1,"y":314},{"b":2,"g":1,"s":12,"x":558.3,"y":299},{"b":2,"g":1,"s":13,"x":558.6,"y":284},{"b":2,"g":1,"s":14,"x":558.9,"y":269},{"b":2,"g":1,"s":15,"x":559.2,"y":254},
{"b":2,"g":2,"s":15,"x":559.2,"y":254},{"b":2,"g":2,"s":16,"x":559.0,"y":239},{"b":2,"g":2,"s":17,"x":558.7,"y":224},{"b":2,"g":2,"s":18,"x":558.5,"y":209},{"b":2,"g":2,"s":19,"x":558.2,"y":194},{"b":2,"g":2,"s":20,"x":558.0,"y":179},{"b":2,"g":2,"s":21,"x":557.7,"y":164},{"b":2,"g":2,"s":22,"x":557.5,"y":149},{"b":2,"g":2,"s":23,"x":557.2,"y":134},{"b":2,"g":2,"s":24,"x":557.0,"y":119},{"b":2,"g":2,"s":25,"x":556.7,"y":104},{"b":2,"g":2,"s":26,"x":556.5,"y":89},{"b":2,"g":2,"s":27,"x":556.2,"y":74},{"b":2,"g":2,"s":28,"x":556.0,"y":59},{"b":2,"g":2,"s":29,"x":555.7,"y":44}
],
"pot":[
{"v":0,"t":0},{"v":0.30,"t":0.3},{"v":0.335,"t":1},{"v":0.343,"t":3},{"v":0.347,"t":6},{"v":0.352,"t":20},{"v":0.356,"t":40},{"v":0.361,"t":70},{"v":0.365,"t":100},{"v":0.369,"t":130},{"v":0.373,"t":160},{"v":0.377,"t":180},{"v":0.383,"t":193},{"v":0.392,"t":205},{"v":0.405,"t":215},{"v":0.425,"t":223},{"v":0.445,"t":229},{"v":0.47,"t":236},{"v":0.497,"t":244},{"v":0.46,"t":253},{"v":0.427,"t":260},{"v":0.39,"t":268},{"v":0.356,"t":278},{"v":0.339,"t":287},{"v":0.332,"t":298},{"v":0.329,"t":310},{"v":0.326,"t":340},{"v":0.323,"t":370},{"v":0.319,"t":400},{"v":0.315,"t":425},{"v":0.311,"t":440},{"v":0.305,"t":452},{"v":0.296,"t":461},{"v":0.285,"t":467},{"v":0.26,"t":471.5},{"v":0.2,"t":474},{"v":0.1,"t":475.5},{"v":0,"t":476}
]},
"hconcat":[
{"width":862,"height":497,
"layer":[
{"data":{"name":"spec"},"mark":{"type":"line","strokeWidth":1.3,"interpolate":"monotone"},
"encoding":{
"x":{"field":"x","type":"quantitative","scale":{"domain":[300,750],"nice":false,"zero":false},"axis":{"orient":"bottom","values":[300,350,400,450,500,550,600,650,700,750],"tickSize":-7,"labelPadding":9,"title":"Raman shift (cm⁻¹)","titlePadding":10}},
"y":{"field":"y","type":"quantitative","scale":{"domain":[0,510],"nice":false},"axis":{"labels":false,"ticks":false,"title":"Intensity (a. u.)","titlePadding":11}},
"detail":{"field":"s","type":"nominal"},
"color":{"field":"s","type":"quantitative","scale":{"domain":[0,11,17,29],"range":["#4a3ae0","#e02050","#e02050","#4a3ae0"],"interpolate":"rgb"},"legend":null}}},
{"data":{"name":"peaks"},"transform":[{"filter":"datum.g == 1"}],"mark":{"type":"line","strokeDash":[2,2],"strokeWidth":1.4,"color":"#1c1cd0"},
"encoding":{
"x":{"field":"x","type":"quantitative","scale":{"domain":[300,750],"nice":false,"zero":false},"axis":{"orient":"top","values":[350,400,450,500,550,600,650,700],"labels":false,"tickSize":-7,"title":null}},
"y":{"field":"y","type":"quantitative","scale":{"domain":[0,510],"nice":false},"axis":{"labels":false,"ticks":false,"title":"Intensity (a. u.)","titlePadding":11}},
"detail":{"field":"b","type":"nominal"},
"order":{"field":"s","type":"quantitative"}}},
{"data":{"name":"peaks"},"transform":[{"filter":"datum.g == 2"}],"mark":{"type":"line","strokeDash":[2,2],"strokeWidth":1.4,"color":"#e8102e"},
"encoding":{
"x":{"field":"x","type":"quantitative","scale":{"domain":[300,750],"nice":false,"zero":false},"axis":null},
"y":{"field":"y","type":"quantitative","scale":{"domain":[0,510],"nice":false},"axis":{"labels":false,"ticks":false,"title":"Intensity (a. u.)","titlePadding":11}},
"detail":{"field":"b","type":"nominal"},
"order":{"field":"s","type":"quantitative"}}}
],
"resolve":{"axis":{"x":"independent"}}},
{"vconcat":[
{"width":207,"height":33,"view":{"stroke":null},"data":{"values":[]},"mark":"point"},
{"width":207,"height":440,
"data":{"name":"pot"},
"layer":[
{"mark":{"type":"line","color":"#111111","strokeWidth":1.6},
"encoding":{
"x":{"field":"v","type":"quantitative","scale":{"domain":[0,0.55],"nice":false},"axis":{"orient":"bottom","values":[0,0.25,0.5],"format":".2~f","tickSize":-5,"labelPadding":10,"title":"Potential vs Ag/AgCl (V)","titlePadding":10}},
"y":{"field":"t","type":"quantitative","scale":{"domain":[0,484],"reverse":true,"nice":false},"axis":{"orient":"left","values":[0,100,200,300,400],"tickSize":-5,"labelPadding":5,"title":null}},
"order":{"field":"t","type":"quantitative"}}},
{"mark":{"type":"line","strokeOpacity":0},
"encoding":{
"x":{"field":"v","type":"quantitative","scale":{"domain":[0,0.55],"nice":false},"axis":{"orient":"top","values":[0.25,0.5],"labels":false,"tickSize":-5,"title":null}},
"y":{"field":"t","type":"quantitative","scale":{"domain":[0,484],"reverse":true,"nice":false},"axis":{"orient":"right","values":[100,200,300,400],"labels":false,"tickSize":-5,"title":"Time (s)","titleAngle":270,"titleBaseline":"top","titlePadding":18}},
"order":{"field":"t","type":"quantitative"}}}
],
"resolve":{"axis":{"x":"independent","y":"independent"}}}
],"spacing":10}
]
}
